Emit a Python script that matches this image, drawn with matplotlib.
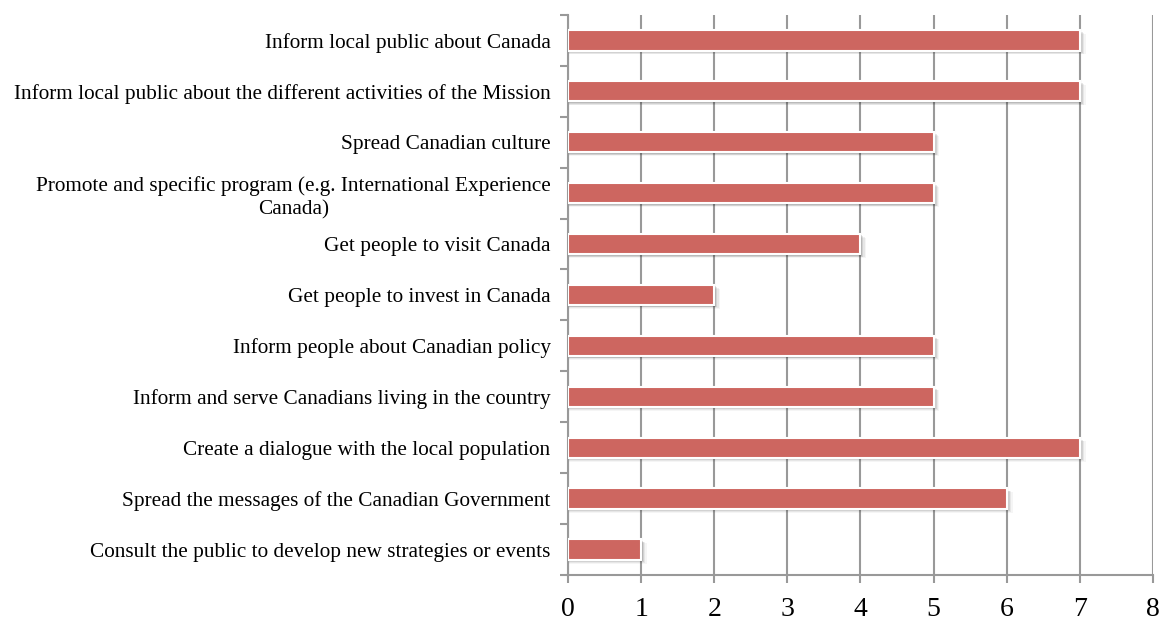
import matplotlib
matplotlib.use("Agg")
import matplotlib.pyplot as plt
import numpy as np

categories = [
    "Inform local public about Canada",
    "Inform local public about the different activities of the Mission",
    "Spread Canadian culture",
    "Promote and specific program (e.g. International Experience\nCanada)",
    "Get people to visit Canada",
    "Get people to invest in Canada",
    "Inform people about Canadian policy",
    "Inform and serve Canadians living in the country",
    "Create a dialogue with the local population",
    "Spread the messages of the Canadian Government",
    "Consult the public to develop new strategies or events",
]
values = [7, 7, 5, 5, 4, 2, 5, 5, 7, 6, 1]
xticks = [0, 1, 2, 3, 4, 5, 6, 7, 8]

plt.rcParams['font.family'] = ['Liberation Serif', 'DejaVu Serif']

fig = plt.figure(figsize=(11.67, 6.21), dpi=100)
ax = fig.add_axes([0.4867, 0.0741, 0.988 - 0.4867, 0.976 - 0.0741])

n = len(categories)
y = np.arange(n)[::-1]
bar_h = 0.4
bar_color = '#CD6660'

# shadow
for yi, v in zip(y, values):
    for k, a in enumerate([0.12, 0.09, 0.06, 0.04]):
        ax.barh(yi - 0.03 - 0.015 * k, v + 0.02 * (k + 1), height=bar_h, left=0,
                color='black', alpha=a, linewidth=0, zorder=2)
ax.barh(y, values, height=bar_h, color=bar_color, edgecolor='white', linewidth=1.5, zorder=3)

ax.set_xlim(0, 8)
ax.set_ylim(-0.5, n - 0.5)
ax.set_xticks(xticks)
ax.set_xticklabels([str(t) for t in xticks], fontsize=20)
ax.tick_params(axis='x', length=6, width=1.5, color='#999999', pad=10)
ax.grid(axis='x', color='#999999', linewidth=1.5, zorder=1)

ax.set_yticks(y)
ax.set_yticklabels(categories, fontsize=15.3, multialignment='center', linespacing=1.3)
ax.tick_params(axis='y', which='major', length=0, pad=12.5)
ax.set_yticks(np.arange(-0.5, n, 1), minor=True)
ax.tick_params(axis='y', which='minor', length=6, width=1.5, color='#999999')

for s in ['top', 'right']:
    ax.spines[s].set_visible(False)
for s in ['left', 'bottom']:
    ax.spines[s].set_color('#999999')
    ax.spines[s].set_linewidth(1.5)
ax.set_axisbelow(True)

fig.savefig('out.png', dpi=100)
